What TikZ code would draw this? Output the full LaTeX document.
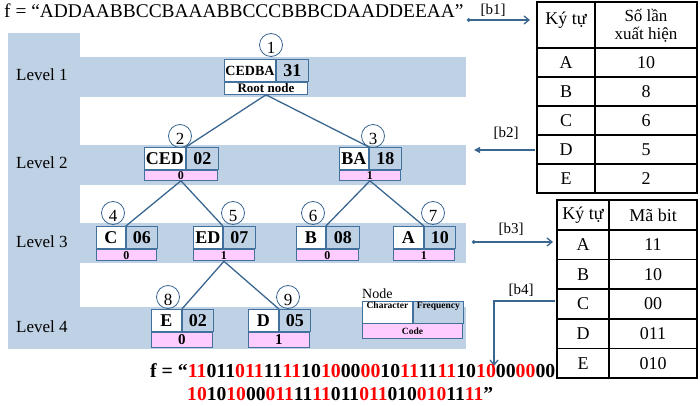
\documentclass[tikz,border=0pt]{standalone}
\usepackage{fontspec}
\setmainfont{Liberation Serif}
\usetikzlibrary{arrows.meta}
\definecolor{band}{HTML}{BFD1E4}
\definecolor{nborder}{HTML}{41719C}
\definecolor{conn}{HTML}{3B6690}
\definecolor{pinkc}{HTML}{FFCCFF}
\definecolor{bitred}{HTML}{FF0000}
\newcommand\fsz[1]{\fontsize{#1}{#1}\selectfont}
\newcommand\R[1]{\textcolor{bitred}{#1}}
\newcommand\hnode[9]{%
  \node[charc, minimum width=#4pt] (#1c) at (#2,#3) {#7};
  \node[freqc, minimum width=#5pt] (#1f) at (#1c.north east) {#8};
  \node[codec, minimum width=#4pt+#5pt, minimum height=#6pt] (#1b) at (#1c.south west) {#9};
}
\begin{document}
\begin{tikzpicture}[x=1pt,y=-1pt,
  box/.style={draw=nborder, line width=0.9pt, inner sep=0pt, anchor=north west, minimum height=22pt},
  charc/.style={box, fill=white, font=\bfseries\fsz{18}},
  freqc/.style={box, fill=band, font=\bfseries\fsz{18}},
  codec/.style={box, fill=pinkc, font=\bfseries\fsz{12}},
  circ/.style={circle, draw=conn, line width=0.8pt, minimum size=23pt, inner sep=0pt},
  num/.style={font=\fsz{17}, yshift=-3pt},
  lvl/.style={font=\fsz{17}, anchor=west, inner sep=0pt},
  conn/.style={draw=conn, line width=1.3pt},
  arr/.style={draw=conn, line width=1.3pt},
  lbl/.style={font=\fsz{15}, inner sep=0pt},
  tbl/.style={draw=black, line width=1.6pt},
  ttxt/.style={font=\fsz{18}, inner sep=0pt},
  legc/.style={draw=nborder, line width=0.9pt, inner sep=0pt, anchor=north west},
  legt/.style={font=\bfseries\fsz{9.5}, inner sep=1pt, anchor=north},
]
\useasboundingbox (0,0) rectangle (700,406);
% background bands
\fill[band] (8,33) rectangle (80,349);
\fill[band] (80,57) rectangle (466,97);
\fill[band] (80,145) rectangle (466,185);
\fill[band] (80,223) rectangle (466,263);
\fill[band] (80,307) rectangle (466,349);
% level labels
\node[lvl] (l1) at (16,75) {Level 1};
\node[lvl] (l2) at (16,163) {Level 2};
\node[lvl] (l3) at (16,242) {Level 3};
\node[lvl] (l4) at (16,327) {Level 4};
% root
\node[charc, minimum width=51pt, font=\bfseries\fsz{14}] (rc) at (224,59) {CEDBA};
\node[freqc, minimum width=32pt] (rf) at (rc.north east) {31};
\node[codec, fill=white, minimum width=83pt, minimum height=12pt, font=\bfseries\fsz{13}] (rb) at (rc.south west) {Root node};
% level 2
\hnode{ced}{144}{147}{41}{32}{10}{CED}{02}{0}
\hnode{ba}{339}{147}{29}{32}{10}{BA}{18}{1}
% level 3
\hnode{c}{96}{226}{29}{31}{11.5}{C}{06}{0}
\hnode{ed}{193}{226}{29}{32}{11.5}{ED}{07}{1}
\hnode{b}{296}{226}{29}{33}{11.5}{B}{08}{0}
\hnode{a}{393}{226}{30}{31}{11.5}{A}{10}{1}
% level 4
\hnode{e}{151}{309}{30}{31}{15}{E}{02}{\fsz{15}0}
\hnode{d}{248}{309}{30}{31}{15}{D}{05}{\fsz{15}1}
% connectors
\draw[conn] (rb.south) -- (cedc.north east);
\draw[conn] (rb.south) -- (bac.north east);
\draw[conn] (cedb.south) -- (cc.north east);
\draw[conn] (cedb.south) -- (edc.north east);
\draw[conn] (bab.south) -- (bc.north east);
\draw[conn] (bab.south) -- (ac.north east);
\draw[conn] (edb.south) -- (ec.north east);
\draw[conn] (edb.south) -- (dc.north east);
% circles
\node[circ, label={[num]center:1}] (k1) at (271,45) {};
\node[circ, label={[num]center:2}] (k2) at (180,136) {};
\node[circ, label={[num]center:3}] (k3) at (373,136) {};
\node[circ, label={[num]center:4}] (k4) at (113,213) {};
\node[circ, label={[num]center:5}] (k5) at (233,213) {};
\node[circ, label={[num]center:6}] (k6) at (313,213) {};
\node[circ, label={[num]center:7}] (k7) at (433,213) {};
\node[circ, label={[num]center:8}] (k8) at (168,297) {};
\node[circ, label={[num]center:9}] (k9) at (288,297) {};
% legend
\node[font=\fsz{14}, anchor=base west, inner sep=0pt] (legn) at (362,298) {Node};
\node[legc, fill=white, minimum width=50pt, minimum height=21.5pt, label={[legt]north:Character}] (lgc) at (362,301) {};
\node[legc, fill=band, minimum width=50pt, minimum height=21.5pt, label={[legt]north:Frequency}] (lgf) at (lgc.north east) {};
\node[legc, fill=pinkc, minimum width=100pt, minimum height=14.5pt] (lgb) at (lgc.south west) {};
\node[font=\bfseries\fsz{9.5}, inner sep=0pt] (lgbt) at (lgb.center) {Code};
% top string
\node[font=\fsz{19.4}, anchor=base west, inner sep=0pt] (fstr) at (4,18) {f = “ADDAABBCCBAAABBCCCBBBCDAADDEEAA”};
% table 1
\coordinate (t1nw) at (537,2);
\coordinate (t1se) at (697,193);
\draw[tbl] (t1nw) rectangle (t1se);
\draw[tbl] (595,2) -- (595,193);
\foreach \yy in {48,77,106,135,164} \draw[tbl] (537,\yy) -- (697,\yy);
\node[ttxt] (t1h1) at (566,20) {Ký tự};
\node[inner sep=0pt, align=center, font=\fontsize{17}{17.5}\selectfont] (t1h2) at (646,26) {Số lần\\xuất hiện};
\foreach \ch/\v [count=\i] in {A/10,B/8,C/6,D/5,E/2}{
  \node[ttxt] (t1a\i) at (566,{48+29*(\i-0.5)}) {\ch};
  \node[ttxt] (t1b\i) at (646,{48+29*(\i-0.5)}) {\v};
}
% table 2
\coordinate (t2nw) at (557,200);
\coordinate (t2se) at (697,378);
\draw[tbl] (t2nw) rectangle (t2se);
\draw[tbl] (609,200) -- (609,378);
\foreach \yy in {230,259.6,289.2,318.8,348.4} \draw[tbl] (557,\yy) -- (697,\yy);
\node[ttxt] (t2h1) at (583,215) {Ký tự};
\node[ttxt] (t2h2) at (653,215) {Mã bit};
\foreach \ch/\v [count=\i] in {A/11,B/10,C/00,D/011,E/010}{
  \node[ttxt] (t2a\i) at (583,{230+29.6*(\i-0.5)}) {\ch};
  \node[ttxt] (t2b\i) at (653,{230+29.6*(\i-0.5)}) {\v};
}
% arrows
\coordinate (b1s) at (467,20);
\coordinate (b1e) at (530,20);
\draw[arr, {Circle[length=3.5pt]}-{Straight Barb[length=5pt,width=8pt]}] (b1s) -- (b1e);
\node[lbl] (b1l) at (493,10) {[b1]};
\coordinate (b2s) at (535,150);
\coordinate (b2e) at (474,150);
\draw[arr, -{Triangle[length=6pt,width=6pt]}] (b2s) -- (b2e);
\node[lbl] (b2l) at (506,133) {[b2]};
\coordinate (b3s) at (472,242);
\coordinate (b3e) at (553,242);
\draw[arr, {Circle[length=3.5pt]}-{Straight Barb[length=5pt,width=8pt]}] (b3s) -- (b3e);
\node[lbl] (b3l) at (511,229) {[b3]};
\coordinate (b4s) at (555,301);
\coordinate (b4c) at (494,301);
\coordinate (b4e) at (494,366);
\draw[arr, -{Straight Barb[length=5pt,width=8pt]}] (b4s) -- (b4c) -- (b4e);
\node[lbl] (b4l) at (521,290) {[b4]};
% bit string
\node[font=\bfseries\fsz{19.8}, anchor=base west, inner sep=0pt] (bits1) at (150,377)
 {f = “\R{11}011\R{011}11\R{11}10\R{10}00\R{00}10\R{11}11\R{11}10\R{10}00\R{00}00};
\node[font=\bfseries\fsz{19.6}, anchor=base west, inner sep=0pt] (bits2) at (187,400)
 {\R{10}10\R{10}00\R{011}11\R{11}011\R{011}010\R{010}11\R{11}”};
\end{tikzpicture}
\end{document}
